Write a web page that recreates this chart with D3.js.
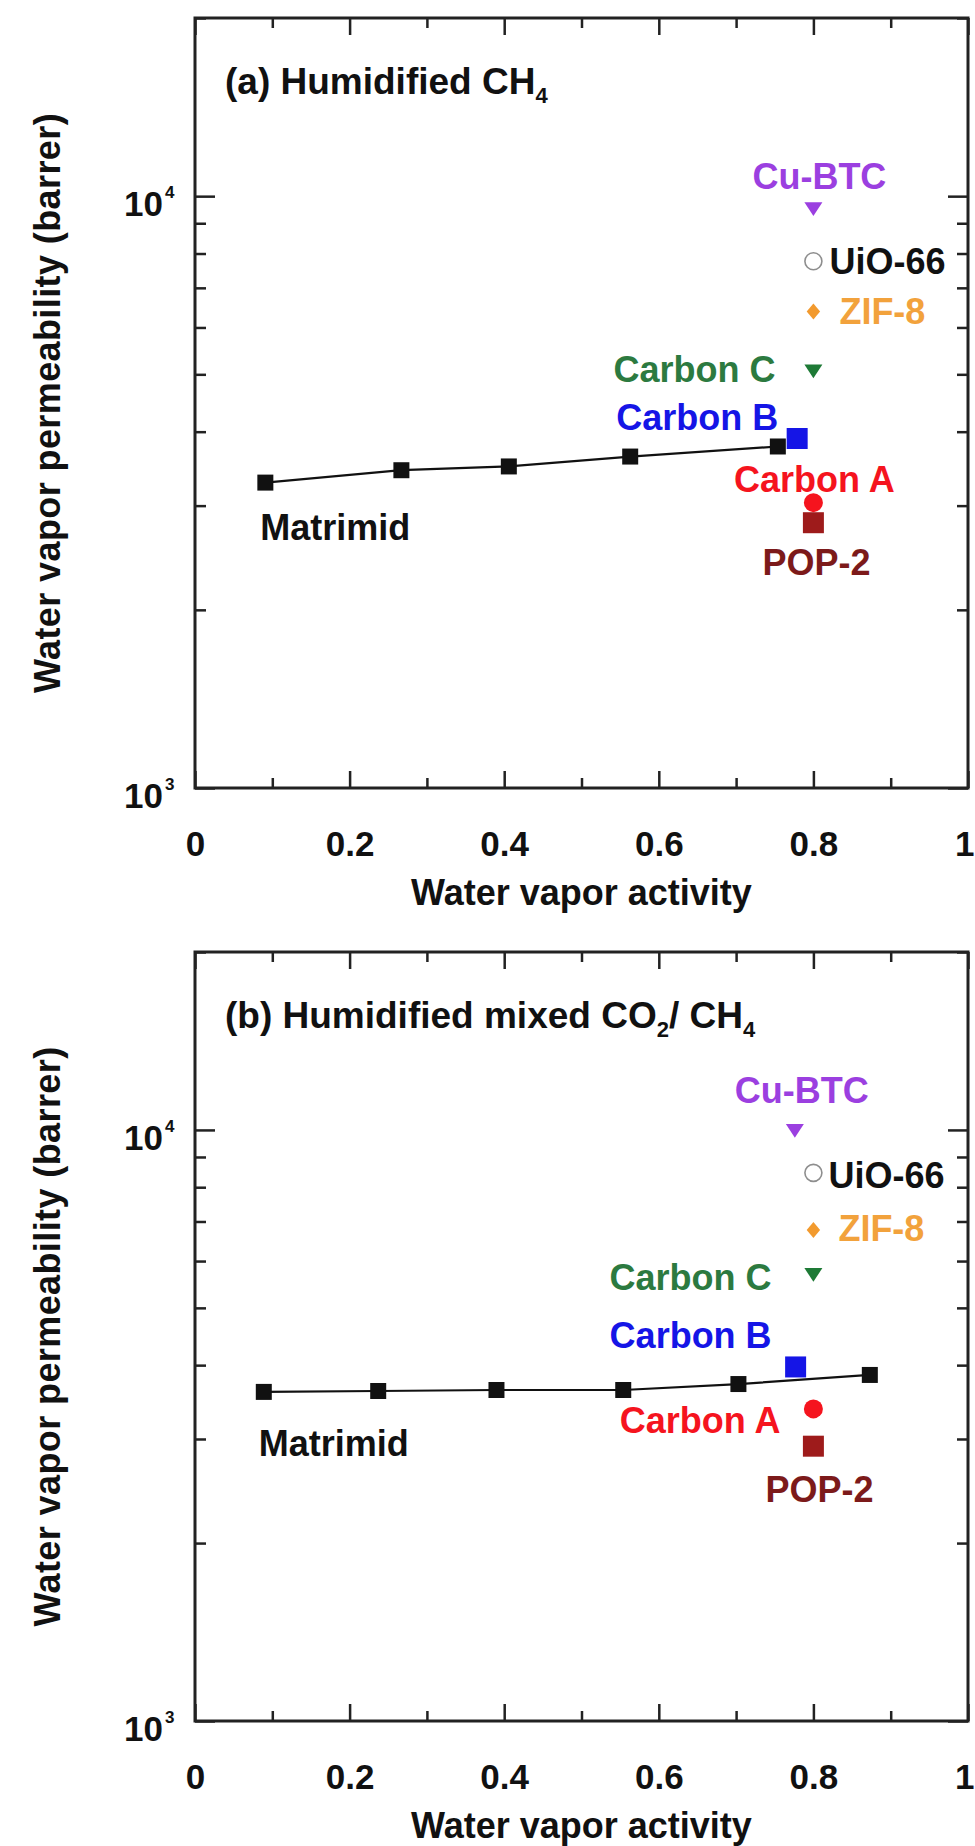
<!DOCTYPE html>
<html>
<head>
<meta charset="utf-8">
<title>Water vapor permeability</title>
<style>
  body { margin: 0; background: #fff; }
  text { font-family: "Liberation Sans", Arial, sans-serif; font-weight: bold; }
  .frame { fill: none; stroke: #222; stroke-width: 3px; }
  .tick line { stroke: #222; stroke-width: 2.5px; }
  .domain { display: none; }
</style>
</head>
<body>
<script src="https://cdn.jsdelivr.net/npm/d3@7/dist/d3.min.js"></script>
<script>
const width = 975, height = 1846;

// x tick values and labels
const xMajor = [0, 0.2, 0.4, 0.6, 0.8, 1];
const xMinor = [0.1, 0.3, 0.5, 0.7, 0.9];
const xLabels = ["0", "0.2", "0.4", "0.6", "0.8", "1"];
const yMajor = [1000, 10000];
const yMinor = [2000, 3000, 4000, 5000, 6000, 7000, 8000, 9000, 20000];
const yExp = ["3", "4"];

// Matrimid series (activity, permeability)
const matrimidActA = [0.091, 0.267, 0.406, 0.563, 0.754];
const matrimidPermA = [3281, 3443, 3494, 3631, 3776];
const matrimidActB = [0.089, 0.237, 0.390, 0.554, 0.703, 0.873];
const matrimidPermB = [3604, 3617, 3631, 3631, 3716, 3850];

// MMMs
const mmmNames = ["Cu-BTC", "UiO-66", "ZIF-8", "Carbon C", "Carbon A", "POP-2", "Carbon B"];
const mmmActA = [0.8, 0.8, 0.8, 0.8, 0.8, 0.8, 0.779];
const mmmPermA = [9506, 7762, 6387, 5057, 3035, 2807, 3895];
const mmmActB = [0.776, 0.8, 0.8, 0.8, 0.8, 0.8, 0.777];
const mmmPermB = [9960, 8460, 6770, 5685, 3373, 2917, 3972];

const mmmStyle = {
  "Cu-BTC":   {shape: "tri",     fill: "#9b3fe0", stroke: "none", size: 18, text: "#9b3fe0"},
  "UiO-66":   {shape: "ocircle", fill: "none",    stroke: "#8e8e8e", size: 17, text: "#111"},
  "ZIF-8":    {shape: "diamond", fill: "#f29a2e", stroke: "none", size: 16, text: "#f2a23c"},
  "Carbon C": {shape: "tri",     fill: "#1e7a36", stroke: "none", size: 18, text: "#2c7a40"},
  "Carbon A": {shape: "circle",  fill: "#f5141e", stroke: "none", size: 19, text: "#f5141e"},
  "POP-2":    {shape: "square",  fill: "#9e1b1b", stroke: "none", size: 21, text: "#7c1a1a"},
  "Carbon B": {shape: "square",  fill: "#1515e6", stroke: "none", size: 21, text: "#1515e6"}
};

// label placement relative to the marker (px)
const labelPosA = {
  "Cu-BTC": [6, -33, "middle"], "UiO-66": [16, 0, "start"], "ZIF-8": [26, 0, "start"],
  "Carbon C": [-38, -2, "end"], "Carbon B": [-19, -21, "end"], "Carbon A": [1, -24, "middle"],
  "POP-2": [3, 39, "middle"]
};
const labelPosB = {
  "Cu-BTC": [7, -41, "middle"], "UiO-66": [15, 2, "start"], "ZIF-8": [25, -2, "start"],
  "Carbon C": [-42, 2, "end"], "Carbon B": [-24, -32, "end"], "Carbon A": [-33, 11, "end"],
  "POP-2": [6, 43, "middle"]
};

const panels = [
  {top: 18, bottom: 788, title: [["(a) Humidified CH", 0], ["4", 1]],
   act: matrimidActA, perm: matrimidPermA, mAct: mmmActA, mPerm: mmmPermA, lab: labelPosA, matLab: [-5, 44]},
  {top: 952, bottom: 1721, title: [["(b) Humidified mixed CO", 0], ["2", 1], ["/ CH", 0], ["4", 1]],
   act: matrimidActB, perm: matrimidPermB, mAct: mmmActB, mPerm: mmmPermB, lab: labelPosB, matLab: [-5, 51]}
];

const left = 195, right = 968;

const downTri = {
  draw(ctx, s) {
    const w = s / 2, h = s * 0.38;
    ctx.moveTo(-w, -h); ctx.lineTo(w, -h); ctx.lineTo(0, h); ctx.closePath();
  }
};
const diamond = {
  draw(ctx, s) {
    const w = s * 0.42, h = s / 2;
    ctx.moveTo(0, -h); ctx.lineTo(w, 0); ctx.lineTo(0, h); ctx.lineTo(-w, 0); ctx.closePath();
  }
};
const square = { draw(ctx, s) { ctx.rect(-s / 2, -s / 2, s, s); } };
const circ = { draw(ctx, s) { ctx.moveTo(s / 2, 0); ctx.arc(0, 0, s / 2, 0, 2 * Math.PI); } };
const shapes = {tri: downTri, diamond: diamond, square: square, circle: circ, ocircle: circ};

const svg = d3.select("body").append("svg")
  .attr("width", width).attr("height", height);

panels.forEach(p => {
  const x = d3.scaleLinear().domain([0, 1]).range([left, right]);
  const y = d3.scaleLog().domain([1000, 20000]).range([p.bottom, p.top]);
  const g = svg.append("g");

  // ticks, all pointing inwards
  g.append("g").attr("transform", `translate(0,${p.bottom})`)
    .call(d3.axisBottom(x).tickValues(xMajor).tickSize(-17).tickPadding(43)
      .tickFormat((d, i) => xLabels[i]))
    .call(a => a.selectAll("text").attr("font-size", 35).attr("fill", "#111")
      .style("font-family", "Liberation Sans, Arial, sans-serif"))
    // keep the last label inside the page
    .call(a => a.selectAll("text").filter(d => d === 1).attr("text-anchor", "end").attr("dx", 6));
  g.append("g").attr("transform", `translate(0,${p.bottom})`)
    .call(d3.axisBottom(x).tickValues(xMinor).tickSize(-10).tickFormat(""));
  g.append("g").attr("transform", `translate(0,${p.top})`)
    .call(d3.axisTop(x).tickValues(xMajor).tickSize(-17).tickFormat(""));
  g.append("g").attr("transform", `translate(0,${p.top})`)
    .call(d3.axisTop(x).tickValues(xMinor).tickSize(-10).tickFormat(""));
  [[d3.axisLeft, left], [d3.axisRight, right]].forEach(([ax, pos]) => {
    g.append("g").attr("transform", `translate(${pos},0)`)
      .call(ax(y).tickValues(yMajor).tickSize(-20).tickFormat(""));
    g.append("g").attr("transform", `translate(${pos},0)`)
      .call(ax(y).tickValues(yMinor).tickSize(-11).tickFormat(""));
  });

  g.append("rect").attr("class", "frame")
    .attr("x", left).attr("y", p.top)
    .attr("width", right - left).attr("height", p.bottom - p.top);

  // y tick labels 10^n
  yMajor.forEach((v, i) => {
    g.append("text").attr("x", left - 32).attr("y", y(v) + 20)
      .attr("text-anchor", "end").attr("font-size", 35).attr("fill", "#111").text("10");
    g.append("text").attr("x", left - 30).attr("y", y(v) + 2)
      .attr("font-size", 17).attr("fill", "#111").text(yExp[i]);
  });

  // axis titles
  g.append("text").attr("x", (left + right) / 2).attr("y", p.bottom + 117)
    .attr("text-anchor", "middle").attr("font-size", 36).attr("fill", "#111")
    .text("Water vapor activity");
  g.append("text")
    .attr("transform", `translate(${60},${(p.top + p.bottom) / 2}) rotate(-90)`)
    .attr("text-anchor", "middle").attr("font-size", 36).attr("fill", "#111")
    .attr("letter-spacing", 0.4)
    .text("Water vapor permeability (barrer)");

  // panel title
  const t = g.append("text").attr("x", 225).attr("y", p.top + 76)
    .attr("font-size", 37).attr("fill", "#111");
  let shift = 0;
  p.title.forEach(([s, sub]) => {
    const want = sub ? 9 : 0;
    t.append("tspan").attr("dy", want - shift).attr("font-size", sub ? 22 : 37).text(s);
    shift = want;
  });

  // Matrimid line + markers
  const pts = p.act.map((a, i) => [a, p.perm[i]]);
  g.append("path").datum(pts)
    .attr("fill", "none").attr("stroke", "#111").attr("stroke-width", 2.2)
    .attr("d", d3.line().x(d => x(d[0])).y(d => y(d[1])));
  g.selectAll(".mat").data(pts).join("path")
    .attr("transform", d => `translate(${x(d[0])},${y(d[1])})`)
    .attr("d", d3.symbol().type(square).size(16)).attr("fill", "#111");
  g.append("text")
    .attr("x", x(pts[0][0]) + p.matLab[0]).attr("y", y(pts[0][1]) + p.matLab[1])
    .attr("dy", "0.36em").attr("font-size", 36).attr("fill", "#111").text("Matrimid");

  // MMM markers and labels
  mmmNames.forEach((name, i) => {
    const st = mmmStyle[name];
    const cx = x(p.mAct[i]), cy = y(p.mPerm[i]);
    g.append("path").attr("transform", `translate(${cx},${cy})`)
      .attr("d", d3.symbol().type(shapes[st.shape]).size(st.size))
      .attr("fill", st.fill).attr("stroke", st.stroke)
      .attr("stroke-width", st.stroke === "none" ? 0 : 1.6);
    const [dx, dy, anchor] = p.lab[name];
    g.append("text").attr("x", cx + dx).attr("y", cy + dy).attr("dy", "0.36em")
      .attr("text-anchor", anchor).attr("font-size", 36).attr("fill", st.text)
      .text(name);
  });
});
</script>
</body>
</html>
